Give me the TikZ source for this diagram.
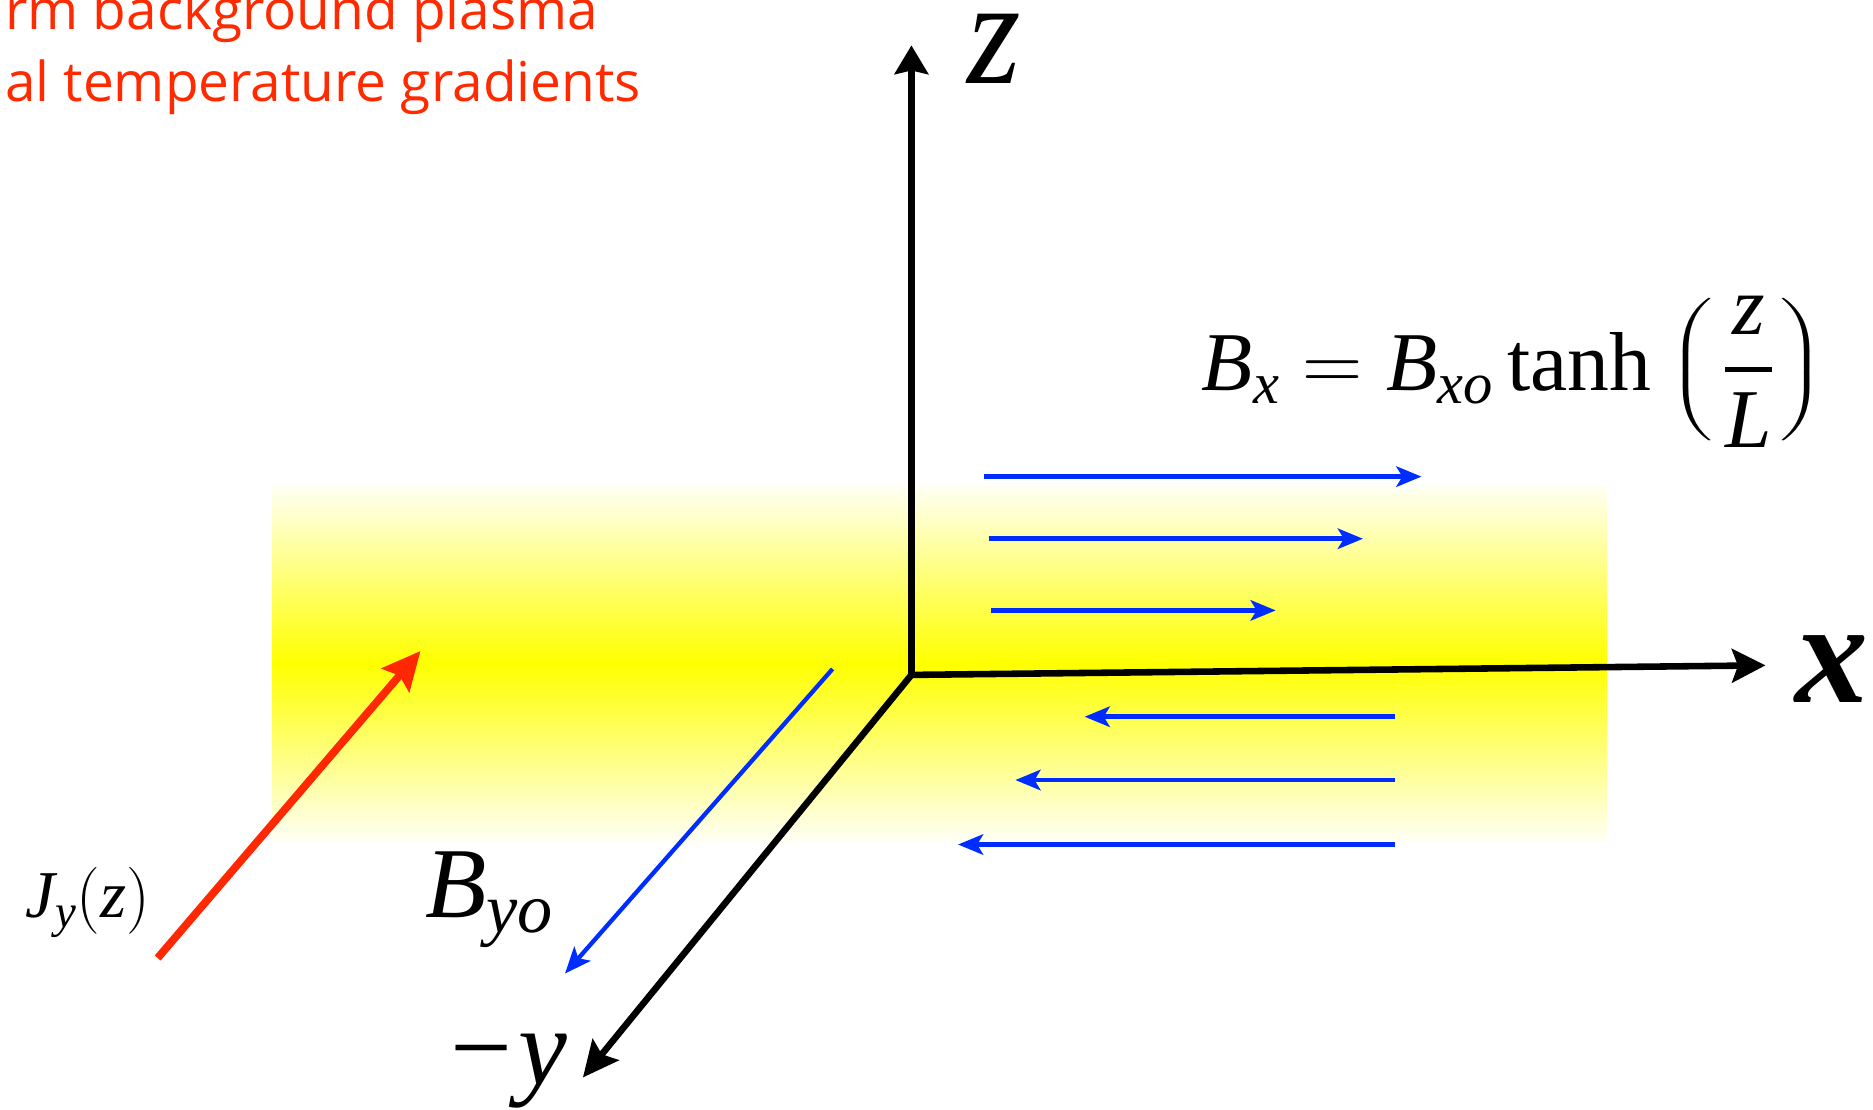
\RequirePackage{fix-cm}
\documentclass[tikz,border=0pt]{standalone}
\usepackage{amsmath}
\usepackage{fontspec}
\newfontfamily\tms{Liberation Serif}
\newfontfamily\gill{Open Sans}
\usetikzlibrary{arrows.meta}
\definecolor{redtxt}{RGB}{255,42,0}
\definecolor{bfield}{RGB}{0,45,255}
\definecolor{jred}{RGB}{255,40,0}
\newcommand{\ti}[1]{\text{\itshape #1}}
\newcommand{\lbig}{\mbox{\raisebox{4pt}{\scalebox{1.7}[1]{\fontsize{54}{60}\selectfont$\left(\vrule height 68.5pt depth 41.5pt width 0pt\right.$}}}}
\newcommand{\rbig}{\mbox{\raisebox{4pt}{\scalebox{1.7}[1]{\fontsize{54}{60}\selectfont$\left.\vrule height 68.5pt depth 41.5pt width 0pt\right)$}}}}
\begin{document}
\begin{tikzpicture}[x=1pt,y=-1pt,
  axisline/.style={line width=5.5pt, line cap=butt},
  bline/.style={bfield, line width=4pt, -{Stealth[length=21pt,width=17pt,inset=5pt]}},
  lbl/.style={anchor=base west, inner sep=0pt, font=\tms}
]
\useasboundingbox (0,0) rectangle (1568,929);
% yellow current sheet
\shade[top color=yellow!3, bottom color=yellow] (228,405) rectangle (1345,555);
\shade[top color=yellow, bottom color=yellow!3] (228,555) rectangle (1345,705);

% red header text
\node[anchor=base west, inner sep=0pt, text=redtxt] (t1) at (4,25) {\gill\fontsize{46}{60}\selectfont rm background plasma};
\node[anchor=base west, inner sep=0pt, text=redtxt] (t2) at (4,85) {\gill\fontsize{46}{60}\selectfont al temperature gradients};

% axes
\coordinate (O) at (763,565);
\coordinate (zt) at (763,38);
\coordinate (xt) at (1478,557);
\coordinate (yt) at (488,902);
\draw[axisline, -{Stealth[length=24pt,width=28pt,inset=3pt]}] (O) -- (zt);
\draw[axisline, -{Stealth[length=28pt,width=28pt,inset=5pt]}] (O) -- (xt);
\draw[axisline, -{Stealth[length=30pt,width=28pt,inset=5pt]}] (O) -- (yt);

% axis labels
\node[lbl] (zl) at (810,70) {\scalebox{1}[1.1]{\fontsize{115}{120}\selectfont\itshape z}};
\node[lbl] (xl) at (1503,588) {\fontsize{122}{130}\selectfont\bfseries\itshape x};
\node[lbl] (yl) at (377,908) {\fontsize{92}{100}\selectfont −\hspace{5pt}\itshape y};

% Bx field lines
\coordinate (a1s) at (824,399); \coordinate (a1e) at (1190,399);
\coordinate (a2s) at (828,451); \coordinate (a2e) at (1141,451);
\coordinate (a3s) at (830,511); \coordinate (a3e) at (1068,511);
\coordinate (b1s) at (1168,600); \coordinate (b1e) at (908,600);
\coordinate (b2s) at (1168,653); \coordinate (b2e) at (850,653);
\coordinate (b3s) at (1168,707); \coordinate (b3e) at (802,707);
\draw[bline] (a1s) -- (a1e);
\draw[bline] (a2s) -- (a2e);
\draw[bline] (a3s) -- (a3e);
\draw[bline] (b1s) -- (b1e);
\draw[bline] (b2s) -- (b2e);
\draw[bline] (b3s) -- (b3e);

% By guide field
\coordinate (bys) at (697,560); \coordinate (bye) at (473,815);
\draw[bfield, line width=3.6pt, -{Stealth[length=22pt,width=18pt,inset=5pt]}] (bys) -- (bye);
\node[lbl] (byl) at (356,768) {\fontsize{84}{90}\selectfont $\ti{B}_{\ti{yo}}$};

% current
\coordinate (js) at (132,802); \coordinate (je) at (352,545);
\draw[jred, line width=6.5pt, -{Stealth[length=32pt,width=30pt,inset=5pt]}] (js) -- (je);
\node[lbl] (jl) at (21,768) {\fontsize{56}{60}\selectfont $\ti{J}_{\ti{y}}(\ti{z})$};

% formula
\node[lbl] (bx) at (1006,327) {\fontsize{70}{75}\selectfont $\ti{B}_{\ti{x}} = \ti{B}_{\ti{xo}}\,\text{tanh}\hspace{15pt}\lbig\hspace{7pt}\genfrac{}{}{3.8pt}{0}{\ti{z}}{\ti{L}}\hspace{4pt}\rbig$};
\end{tikzpicture}
\end{document}
